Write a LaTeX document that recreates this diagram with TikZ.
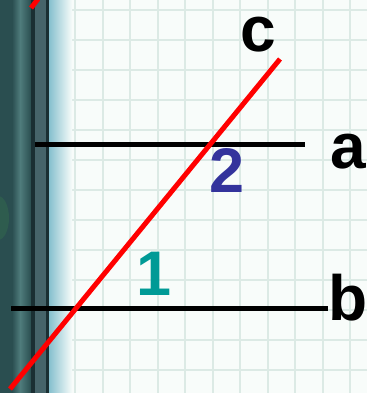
\documentclass[tikz,border=0pt]{standalone}
\usepackage{fontspec}
\setmainfont{Liberation Sans}
\usepackage{xcolor}
\usetikzlibrary{positioning}

\definecolor{paper}{HTML}{F8FCFA}
\definecolor{gridcol}{HTML}{DCEAE5}
\definecolor{bindA}{HTML}{2A4E50}
\definecolor{bindB}{HTML}{4F7C7C}
\definecolor{bindC}{HTML}{1A2F33}
\definecolor{bindD}{HTML}{46646A}
\definecolor{edgeblue}{HTML}{86C0CE}
\definecolor{ringcol}{HTML}{2E5C4E}
\definecolor{twocol}{HTML}{33339C}
\definecolor{onecol}{HTML}{009A96}

\begin{document}
\begin{tikzpicture}[
        x=1pt, y=-1pt,
        gridline/.style={gridcol, line width=2pt},
        parline/.style={black, line width=5pt},
        transline/.style={red, line width=5pt},
        letter/.style={font=\bfseries\fontsize{64}{64}\selectfont, inner sep=0pt, anchor=base},
        anglenum/.style={font=\bfseries\fontsize{63}{63}\selectfont, inner sep=0pt, anchor=base},
      ]

      % Papel
      \fill[paper] (0,0) rectangle (367,393);
      \useasboundingbox (0,0) rectangle (367,393);
      \foreach \x in {75,102.5,...,360}
        \draw[gridline] (\x,0) -- (\x,393);
      \foreach \y in {10,40,...,393}
        \draw[gridline] (48,\y) -- (367,\y);

      % Encadernacao
      \fill[bindA] (0,0) rectangle (12,393);
      \shade[left color=bindA, right color=bindB] (12,0) rectangle (20,393);
      \shade[left color=bindB, right color=bindA] (20,0) rectangle (31,393);
      \fill[bindC] (31,0) rectangle (35,393);
      \fill[bindD] (35,0) rectangle (46,393);
      \fill[bindC] (46,0) rectangle (49,393);
      \shade[left color=edgeblue, right color=paper] (49,0) rectangle (72,393);
      \fill[ringcol] (-2,218) ellipse [x radius=11, y radius=22];

      % Retas
      \coordinate (a1) at (35,144);
      \coordinate (a2) at (305,144);
      \coordinate (b1) at (11,308);
      \coordinate (b2) at (328,308);
      \coordinate (c1) at (10,389);
      \coordinate (c2) at (280,59);
      \coordinate (d1) at (31,8);
      \coordinate (d2) at (38,-1);

      \draw[parline] (a1) -- (a2);
      \draw[parline] (b1) -- (b2);
      \draw[transline] (c1) -- (c2);
      \draw[transline] (d1) -- (d2);

      % Rotulos
      \node[letter] (lc) at (258,52) {c};
      \node[letter] (la) at (348,168) {a};
      \node[letter] (lb) at (348,320) {b};
      \node[anglenum, twocol] (n2) at (227,192) {2};
      \node[anglenum, onecol] (n1) at (154,295) {1};

    \end{tikzpicture}
\end{document}
